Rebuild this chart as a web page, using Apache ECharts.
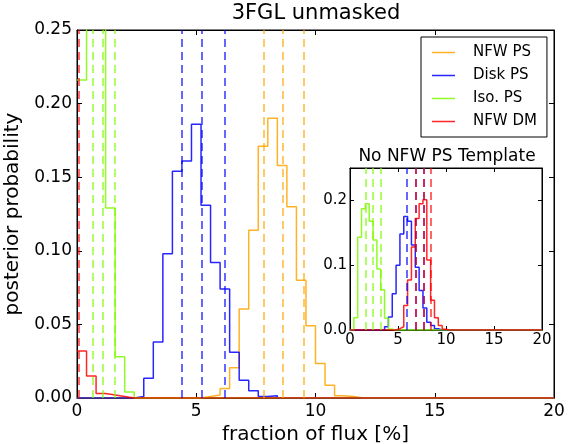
<!DOCTYPE html>
<html>
<head>
<meta charset="utf-8">
<script src="https://cdn.jsdelivr.net/npm/echarts@6/dist/echarts.min.js"></script>
<style>
html,body{margin:0;padding:0;background:#fff;}
#chart{width:568px;height:444px;}
</style>
</head>
<body>
<div id="chart"></div>
<script>
// ---------- data (histogram bins of width 0.4 %) ----------
const binWidth = 0.4;
const xTicks = [0, 5, 10, 15, 20];
const seriesNames = ['NFW PS', 'Disk PS', 'Iso. PS', 'NFW DM'];

// main panel: first bin left edge + bin heights
const mainNfwPsStart = 5.2;
const mainNfwPs = [0.001, 0.002, 0.0065, 0.0206, 0.0605, 0.114, 0.171, 0.190, 0.158, 0.130, 0.080, 0.049, 0.0234, 0.0086, 0.0015, 0.001];
const mainDiskPsStart = 2.4;
const mainDiskPs = [0.001, 0.0135, 0.038, 0.098, 0.154, 0.161, 0.186, 0.131, 0.092, 0.074, 0.031, 0.012, 0.005, 0.001, 0.0015];
const mainIsoPsStart = 0.0;
const mainIsoPs = [0.216, 0.32, 0.30, 0.129, 0.028, 0.004];
const mainNfwDmStart = 0.0;
const mainNfwDm = [0.032, 0.015, 0.003, 0.002, 0.001];

// main panel: dashed quantile lines
const mainNfwPsLines = [7.81, 8.61, 9.52];
const mainDiskPsLines = [4.39, 5.25, 6.19];
const mainIsoPsLines = [0.66, 1.07, 1.57];
const mainNfwDmLines = [0.07];

// inset panel (No NFW PS Template)
const insetDiskPsStart = 3.6;
const insetDiskPs = [0.005, 0.02, 0.056, 0.10, 0.148, 0.175, 0.168, 0.131, 0.097, 0.061, 0.034, 0.012, 0.007, 0.002];
const insetIsoPsStart = 0.4;
const insetIsoPs = [0.019, 0.143, 0.187, 0.195, 0.168, 0.139, 0.094, 0.062, 0.018, 0.001];
const insetNfwDmStart = 4.8;
const insetNfwDm = [0.002, 0.005, 0.038, 0.077, 0.128, 0.172, 0.195, 0.201, 0.108, 0.046, 0.019, 0.007, 0.001];

const insetDiskPsLines = [5.95, 6.8, 7.7];
const insetIsoPsLines = [1.59, 2.32, 3.2];
const insetNfwDmLines = [6.87, 7.71, 8.4];

// ---------- build ----------
const colors = {'NFW PS': '#FFA500', 'Disk PS': '#0000FF', 'Iso. PS': '#7CFC00', 'NFW DM': '#FF0000'};
const FONT = 'DejaVu Sans';
const nBins = Math.round(20 / binWidth);

function stepPoints(start, vals) {
  const s = Math.round(start / binWidth);
  const pts = [];
  for (let k = 0; k < nBins; k++) {
    const j = k - s;
    const v = (j >= 0 && j < vals.length) ? vals[j] : 0;
    pts.push([+(k * binWidth).toFixed(4), v]);
  }
  pts.push([20, 0]);
  return pts;
}

function histSeries(name, start, vals, lines, xi, yi) {
  return {
    type: 'line', name: name, step: 'end', xAxisIndex: xi, yAxisIndex: yi,
    data: stepPoints(start, vals), symbol: 'none', showSymbol: false, clip: true,
    lineStyle: {color: colors[name], width: 1.5, opacity: 0.85},
    itemStyle: {color: colors[name], opacity: 0.85},
    emphasis: {disabled: true},
    markLine: {
      silent: true, symbol: ['none', 'none'], label: {show: false}, animation: false,
      lineStyle: {color: colors[name], type: [8, 5], width: 1.7, opacity: 0.7},
      data: lines.map(v => ({xAxis: v}))
    }
  };
}

function frameAxis(base, extra) { return Object.assign({}, base, extra); }

const tickStyle = {lineStyle: {color: '#000', width: 1}};
const mainX = {
  type: 'value', gridIndex: 0, min: 0, max: 20, interval: 5,
  axisLine: {show: true, onZero: false, lineStyle: {color: '#000', width: 1}},
  axisTick: Object.assign({show: true, inside: true, length: 5}, tickStyle),
  splitLine: {show: false}
};
const mainY = {
  type: 'value', gridIndex: 0, min: 0, max: 0.25, interval: 0.05,
  axisLine: {show: true, onZero: false, lineStyle: {color: '#000', width: 1}},
  axisTick: Object.assign({show: true, inside: true, length: 5}, tickStyle),
  splitLine: {show: false}
};
const insX = {
  type: 'value', gridIndex: 1, min: 0, max: 20, interval: 5,
  axisLine: {show: true, onZero: false, lineStyle: {color: '#000', width: 1}},
  axisTick: Object.assign({show: true, inside: true, length: 4}, tickStyle),
  splitLine: {show: false}
};
const insY = {
  type: 'value', gridIndex: 1, min: 0, max: 0.25, interval: 0.1,
  axisLine: {show: true, onZero: false, lineStyle: {color: '#000', width: 1}},
  axisTick: Object.assign({show: true, inside: true, length: 4}, tickStyle),
  splitLine: {show: false}
};

const option = {
  animation: false,
  backgroundColor: '#fff',
  textStyle: {fontFamily: FONT},
  grid: [
    {left: 77, top: 30, width: 477, height: 368, containLabel: false, outerBoundsMode: 'none',
     show: true, borderColor: '#000', borderWidth: 1, backgroundColor: 'transparent'},
    {left: 350, top: 168, width: 192, height: 162, containLabel: false, outerBoundsMode: 'none',
     show: true, borderColor: '#000', borderWidth: 1, backgroundColor: '#fff'}
  ],
  xAxis: [
    frameAxis(mainX, {position: 'bottom',
      axisLabel: {show: true, fontSize: 17, color: '#000', margin: 5, fontFamily: FONT},
      name: 'fraction of flux [%]', nameLocation: 'middle', nameGap: 27,
      nameTextStyle: {fontSize: 20, color: '#000', fontFamily: FONT}}),
    frameAxis(mainX, {position: 'top', axisLabel: {show: false}}),
    frameAxis(insX, {position: 'bottom',
      axisLabel: {show: true, fontSize: 15, color: '#000', margin: 3, fontFamily: FONT}}),
    frameAxis(insX, {position: 'top', axisLabel: {show: false}})
  ],
  yAxis: [
    frameAxis(mainY, {position: 'left',
      axisLabel: {show: true, fontSize: 17, color: '#000', margin: 5, fontFamily: FONT, formatter: v => v.toFixed(2)},
      name: 'posterior probability', nameLocation: 'middle', nameGap: 50, nameRotate: 90,
      nameTextStyle: {fontSize: 20, color: '#000', fontFamily: FONT}}),
    frameAxis(mainY, {position: 'right', axisLabel: {show: false}}),
    frameAxis(insY, {position: 'left',
      axisLabel: {show: true, fontSize: 15, color: '#000', margin: 3, fontFamily: FONT, showMaxLabel: false, formatter: v => v.toFixed(1)}}),
    frameAxis(insY, {position: 'right', axisLabel: {show: false}})
  ],
  legend: {
    data: seriesNames, orient: 'vertical', left: 421, top: 37,
    backgroundColor: '#fff', borderColor: '#000', borderWidth: 1, borderRadius: 0,
    padding: [7, 10, 7, 11], icon: 'rect', itemWidth: 23, itemHeight: 1.5, itemGap: 6,
    itemStyle: {opacity: 0.85},
    textStyle: {fontSize: 15, color: '#000', fontFamily: FONT, padding: [0, 0, 0, 13], lineHeight: 17},
    selectedMode: false
  },
  graphic: [
    {type: 'text', x: 316, y: 14, style: {text: '3FGL unmasked', font: '21px "DejaVu Sans"', fill: '#000', textAlign: 'center', textVerticalAlign: 'middle'}},
    {type: 'text', x: 447, y: 157, style: {text: 'No NFW PS Template', font: '17px "DejaVu Sans"', fill: '#000', textAlign: 'center', textVerticalAlign: 'middle'}}
  ],
  series: [
    histSeries('NFW PS', mainNfwPsStart, mainNfwPs, mainNfwPsLines, 0, 0),
    histSeries('Disk PS', mainDiskPsStart, mainDiskPs, mainDiskPsLines, 0, 0),
    histSeries('Iso. PS', mainIsoPsStart, mainIsoPs, mainIsoPsLines, 0, 0),
    histSeries('NFW DM', mainNfwDmStart, mainNfwDm, mainNfwDmLines, 0, 0),
    histSeries('Disk PS', insetDiskPsStart, insetDiskPs, insetDiskPsLines, 2, 2),
    histSeries('Iso. PS', insetIsoPsStart, insetIsoPs, insetIsoPsLines, 2, 2),
    histSeries('NFW DM', insetNfwDmStart, insetNfwDm, insetNfwDmLines, 2, 2)
  ]
};

const chart = echarts.init(document.getElementById('chart'), null, {renderer: 'canvas'});
chart.setOption(option);
</script>
</body>
</html>
